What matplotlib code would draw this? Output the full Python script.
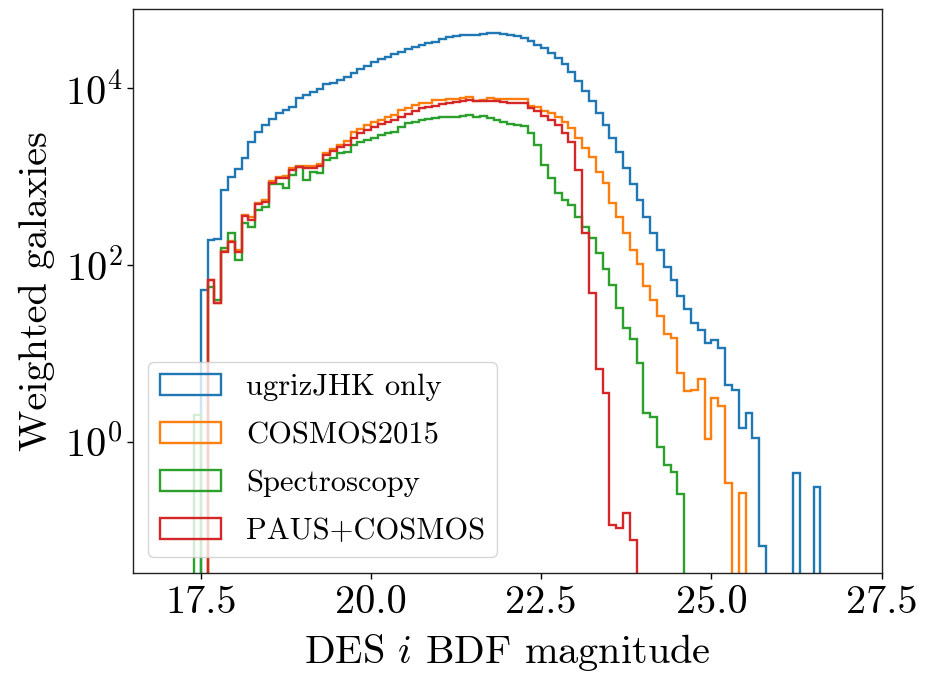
import numpy as np
import matplotlib
matplotlib.use("Agg")
import matplotlib.pyplot as plt
from matplotlib.ticker import FixedLocator, NullLocator, LogFormatterSciNotation

plt.rcParams["font.family"] = "cmr10"
plt.rcParams["mathtext.fontset"] = "cm"
plt.rcParams["axes.formatter.use_mathtext"] = True

# Magnitude bins of width 0.1, from 17.4 to 26.6
bin_lo = 17.4
bin_width = 0.1
n_bins = 92

series_labels = ["ugrizJHK only", "COSMOS2015", "Spectroscopy", "PAUS+COSMOS"]
series_colors = ["C0", "C1", "C2", "C3"]

# Weighted galaxy counts per bin (17.4, 17.5, ..., 26.5)
ugrizjhk_only = (
    [0, 52, 190, 195, 703, 995]
    + [1205, 1603, 2472, 3206, 3819, 4426, 5260, 5636, 6152, 7638]
    + [8337, 9078, 9660, 11090, 11480, 12300, 13430, 14660, 16410, 17860]
    + [19500, 21280, 22590, 23990, 25700, 27540, 29310, 30340, 31990, 33340]
    + [35480, 37330, 38730, 39360, 39810, 39990, 40740, 41500, 41500, 40740]
    + [39810, 38460, 36310, 33880, 30900, 28180, 25120, 21880, 18620, 15140]
    + [12020, 9330, 7080, 5250, 3800, 2750, 1905, 1260, 830, 542]
    + [352, 228, 148, 94, 68, 45, 32, 22.3, 18.5, 13.0]
    + [14.2, 11.4, 4.4, 3.9, 1.43, 2.14, 1.10, 0.066, 0, 0]
    + [0, 0, 0.45, 0, 0, 0.31]
)

cosmos2015 = (
    [0, 0, 68, 37, 145, 186]
    + [148, 363, 347, 501, 537, 891, 977, 1000, 1259, 1318]
    + [1318, 1318, 1380, 1820, 2042, 2291, 2512, 3162, 3467, 3784]
    + [4121, 4365, 4699, 5012, 5585, 5888, 6368, 6714, 6761, 7244]
    + [7311, 7586, 7586, 7709, 7907, 7129, 7311, 7709, 7586, 7499]
    + [7499, 7499, 7413, 6310, 6030, 5546, 5248, 4677, 4169, 3499]
    + [2692, 2080, 1675, 1132, 836, 498, 352, 228, 148, 102]
    + [57.5, 40.2, 26.3, 16.8, 14.8, 5.97, 3.76, 3.89, 5.15, 1.07]
    + [3.11, 2.57, 0.34, 0, 0.263, 0, 0, 0, 0, 0]
    + [0, 0, 0, 0, 0, 0]
)

spectroscopy = (
    [2.0, 0, 56, 40, 155, 232]
    + [115, 295, 269, 417, 457, 832, 832, 741, 1047, 1288]
    + [912, 1122, 1096, 1549, 1622, 1820, 1905, 2239, 2455, 2570]
    + [2692, 2951, 3090, 3199, 3631, 3981, 4169, 4365, 4416, 4519]
    + [4677, 4732, 4732, 4786, 4898, 4677, 4786, 4519, 4365, 4100]
    + [3950, 3850, 3715, 3090, 2270, 1349, 955, 646, 542, 476]
    + [352, 271, 200, 135, 89, 59, 32.4, 19.2, 14.5, 7.87]
    + [2.11, 1.93, 0.885, 0.55, 0.462, 0.258, 0, 0, 0, 0]
    + [0, 0, 0, 0, 0, 0, 0, 0, 0, 0]
    + [0, 0, 0, 0, 0, 0]
)

paus_cosmos = (
    [0, 0, 68, 37, 141, 182]
    + [141, 355, 324, 490, 513, 851, 955, 955, 1175, 1288]
    + [1259, 1259, 1318, 1738, 1950, 2138, 2265, 2754, 3090, 3350]
    + [3589, 3890, 4169, 4365, 4732, 5129, 5559, 5888, 6026, 6310]
    + [6607, 6823, 6918, 7178, 7311, 7079, 7079, 7178, 7079, 6918]
    + [6823, 6714, 6698, 5888, 5495, 4786, 4365, 3802, 3090, 2455]
    + [1175, 229, 47.9, 6.62, 3.55, 0.115, 0.106, 0.159, 0.078, 0]
    + [0, 0, 0, 0, 0, 0, 0, 0, 0, 0]
    + [0, 0, 0, 0, 0, 0, 0, 0, 0, 0]
    + [0, 0, 0, 0, 0, 0]
)

x_ticks = [17.5, 20.0, 22.5, 25.0, 27.5]
y_ticks = [1e0, 1e2, 1e4]

edges = np.round(bin_lo + bin_width * np.arange(n_bins + 1), 2)
centers = 0.5 * (edges[:-1] + edges[1:])

fig = plt.figure(figsize=(9.28, 6.73), dpi=100)
ax = fig.add_axes([0.1430, 0.1490, 0.8071, 0.8376])

for vals, lab, col in zip([ugrizjhk_only, cosmos2015, spectroscopy, paus_cosmos],
                          series_labels, series_colors):
    ax.hist(centers, bins=edges, weights=np.asarray(vals, dtype=float),
            histtype="step", color=col, linewidth=1.7, label=lab)

ax.set_yscale("log")
ax.set_xlim(16.5, 27.5)
ax.set_ylim(0.0333, 7.8e4)

ax.xaxis.set_major_locator(FixedLocator(x_ticks))
ax.xaxis.set_major_formatter(plt.FuncFormatter(lambda v, p: f"{v:.1f}"))
ax.yaxis.set_major_locator(FixedLocator(y_ticks))
ax.yaxis.set_major_formatter(LogFormatterSciNotation())
ax.yaxis.set_minor_locator(NullLocator())

ax.tick_params(axis="both", which="major", labelsize=29, length=4, width=1.0)
ax.tick_params(axis="x", pad=5)
for sp in ax.spines.values():
    sp.set_linewidth(1.0)
    sp.set_color("#222222")

ax.set_xlabel("DES $i$ BDF magnitude", fontsize=29, labelpad=8)
ax.set_ylabel("Weighted galaxies", fontsize=29, labelpad=7)

ax.legend(loc="lower left", fontsize=22, labelspacing=0.67)

fig.savefig("out.png", dpi=100)
